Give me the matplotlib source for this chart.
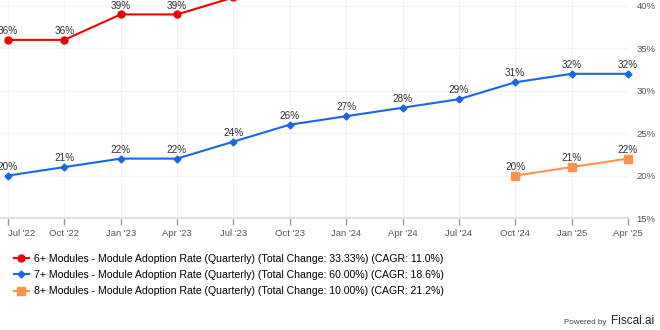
import matplotlib
matplotlib.use('Agg')
import matplotlib.pyplot as plt

plt.rcParams['font.family'] = ['Liberation Sans', 'DejaVu Sans']

quarters = ["Jul '22", "Oct '22", "Jan '23", "Apr '23", "Jul '23", "Oct '23",
            "Jan '24", "Apr '24", "Jul '24", "Oct '24", "Jan '25", "Apr '25"]
six_plus = [36, 36, 39, 39, 41, 43, 44, 45, 46, 47, 48, 48]
seven_plus = [20, 21, 22, 22, 24, 26, 27, 28, 29, 31, 32, 32]
eight_plus = [20, 21, 22]
eight_start = 9
y_ticks = [15, 20, 25, 30, 35, 40]

labels = [
    '6+ Modules - Module Adoption Rate (Quarterly) (Total Change: 33.33%) (CAGR: 11.0%)',
    '7+ Modules - Module Adoption Rate (Quarterly) (Total Change: 60.00%) (CAGR: 18.6%)',
    '8+ Modules - Module Adoption Rate (Quarterly) (Total Change: 10.00%) (CAGR: 21.2%)',
]
colors = ['#f00000', '#1a66e8', '#ff9448']

fig = plt.figure(figsize=(6.6, 3.3), dpi=100)
ax = fig.add_axes([0, 1 - 218 / 330, 628 / 660, 218 / 330])

x = list(range(len(quarters)))
x8 = x[eight_start:]

l1, = ax.plot(x, six_plus, color=colors[0], marker='o', ms=5, lw=1.5)
l2, = ax.plot(x, seven_plus, color=colors[1], marker='D', ms=3.5, lw=1.5)
l3, = ax.plot(x8, eight_plus, color=colors[2], marker='s', ms=5.5, lw=1.5)
l2.set_clip_on(False)
l3.set_clip_on(False)

for xs, ys in [(x, six_plus), (x, seven_plus), (x8, eight_plus)]:
    for xi, yi in zip(xs, ys):
        if yi <= 40.7:
            ax.annotate(f'{yi}%', (xi, yi), xytext=(0, 2.8), textcoords='offset points',
                        ha='center', va='bottom', fontsize=7.2, color='#333333')

ax.set_xlim(-0.14, 11)
ax.set_ylim(15, 40.7)
ax.set_xticks(x)
ax.set_xticklabels(quarters)
ax.get_xticklabels()[0].set_horizontalalignment('left')
ax.set_yticks(y_ticks)
ax.set_yticklabels([f'{t}%' for t in y_ticks])
ax.yaxis.tick_right()
ax.tick_params(axis='y', length=0, pad=6, labelsize=6.8, labelcolor='#555555')
ax.tick_params(axis='x', length=5, width=1, color='#999999', pad=3,
               labelsize=6.8, labelcolor='#555555')
ax.grid(True, color='#f3f3f3', lw=0.8)
ax.set_axisbelow(True)
for s in ['top', 'left', 'right']:
    ax.spines[s].set_visible(False)
ax.spines['bottom'].set_color('#e0e0e0')
ax.spines['bottom'].set_linewidth(1.5)

fig.legend([l1, l2, l3], labels, loc='upper left', bbox_to_anchor=(14 / 660, 1 - 254 / 330),
           frameon=False, fontsize=7.6, handlelength=1.4, handletextpad=0.5,
           labelspacing=0.58, borderaxespad=0, borderpad=0)

fig.text(606 / 660, 1 - 323 / 330, 'Powered by', ha='right', va='center',
         fontsize=5.8, color='#444444')
fig.text(654 / 660, 1 - 321 / 330, 'Fiscal.ai', ha='right', va='center',
         fontsize=8.5, color='#222222')

fig.savefig('out.png', dpi=100)
